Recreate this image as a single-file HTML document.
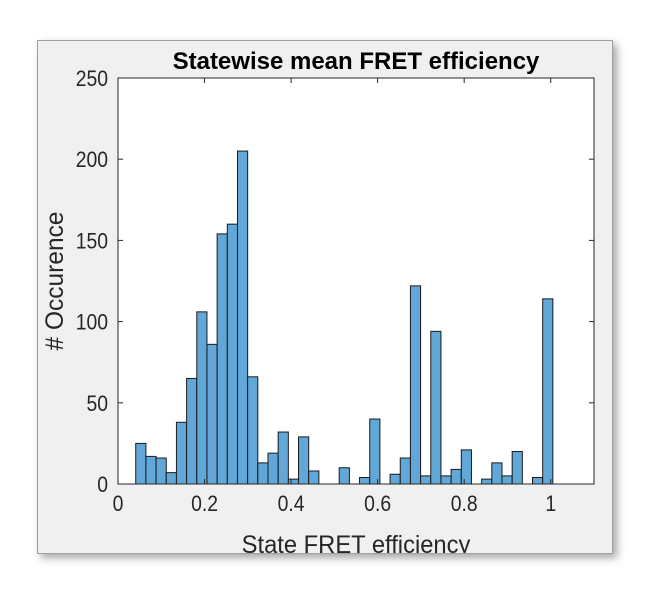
<!DOCTYPE html>
<html><head><meta charset="utf-8"><style>
body{margin:0;background:#fff;width:651px;height:593px;overflow:hidden;font-family:"Liberation Sans",Arial,sans-serif}
#panel{position:absolute;left:37px;top:40px;width:574px;height:512px;background:#f0f0f0;border:1px solid #a0a0a0;box-shadow:4px 4px 8px rgba(0,0,0,0.35);overflow:hidden}
svg{position:absolute;left:0;top:0}
</style></head><body>
<div id="panel"></div>
<svg id="chart" width="651" height="593"></svg>
<script>
const counts=[25,17,16,7,38,65,106,86,154,160,205,66,13,19,32,3,29,8,0,0,10,0,4,40,0,6,16,122,5,94,5,9,21,0,3,13,5,20,0,4,114];
const binStart=0.041;
const binWidth=0.02351;
const yTicks=[0,50,100,150,200,250];
const xTicks=[0,0.2,0.4,0.6,0.8,1];
const xTickLabels=["0","0.2","0.4","0.6","0.8","1"];
const L=118,R=594,T=78,B=484,xmax=1.1,ymax=250;
const sx=v=>L+v/xmax*(R-L), sy=v=>B-v/ymax*(B-T);
const svg=document.getElementById('chart');const NS='http://www.w3.org/2000/svg';
function mk(t,a){const e=document.createElementNS(NS,t);for(const k in a)e.setAttribute(k,a[k]);svg.appendChild(e);return e;}
let bg=mk('rect',{x:L,y:T,width:R-L,height:B-T,fill:'#fff'});


counts.forEach((c,i)=>{if(!c)return;const x0=sx(binStart+i*binWidth),x1=sx(binStart+(i+1)*binWidth);
const r=mk('rect',{x:x0,y:sy(c),width:x1-x0,height:sy(0)-sy(c),fill:'#61a8d9',stroke:'#1a1a1a','stroke-width':1});

});
let fr=mk('rect',{x:L,y:T,width:R-L,height:B-T,fill:'none',stroke:'#262626','stroke-width':1});


function sq(x,y){return 'translate('+x+','+y+') scale(0.88,1)';}
yTicks.forEach(v=>{const y=sy(v);mk('line',{x1:L,x2:L+5,y1:y,y2:y,stroke:'#262626'});mk('line',{x1:R,x2:R-5,y1:y,y2:y,stroke:'#262626'});
const t=mk('text',{x:0,y:0,transform:sq(L-10,y+8),'text-anchor':'end','font-size':22,fill:'#262626'});t.textContent=v;

});
xTicks.forEach((v,i)=>{const x=sx(v);mk('line',{x1:x,x2:x,y1:B,y2:B-5,stroke:'#262626'});mk('line',{x1:x,x2:x,y1:T,y2:T+5,stroke:'#262626'});
const t=mk('text',{x:0,y:0,transform:sq(x,B+27),'text-anchor':'middle','font-size':22,fill:'#262626'});t.textContent=xTickLabels[i];

});
let ti=mk('text',{x:(L+R)/2,y:69,'text-anchor':'middle','font-size':24,'font-weight':'bold',fill:'#000'});ti.textContent='Statewise mean FRET efficiency';


let xl=mk('text',{x:0,y:0,transform:'translate('+((L+R)/2)+',553) scale(0.95,1)','text-anchor':'middle','font-size':25,fill:'#262626'});xl.textContent='State FRET efficiency';


let yl=mk('text',{x:0,y:0,'text-anchor':'middle','font-size':25,fill:'#262626',transform:'translate(63,'+((T+B)/2)+') rotate(-90) scale(0.98,1)'});yl.textContent='# Occurence';


</script>
<style>#chart{clip-path:inset(40px 39px 40px 37px)}</style>
</body></html>
